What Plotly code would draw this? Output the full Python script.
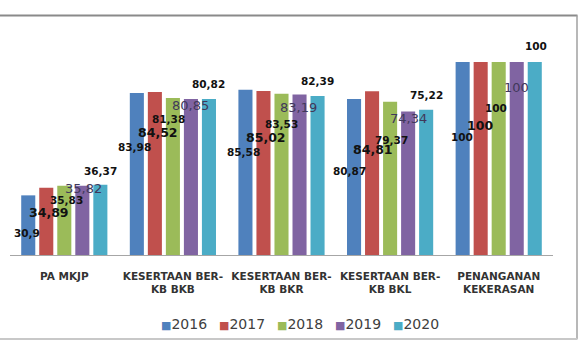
import plotly.graph_objects as go

categories = ["PA MKJP", "KESERTAAN BER-<br>KB BKB", "KESERTAAN BER-<br>KB BKR",
              "KESERTAAN BER-<br>KB BKL", "PENANGANAN<br>KEKERASAN"]
years = ["2016", "2017", "2018", "2019", "2020"]
v2016 = [30.9, 83.98, 85.58, 80.87, 100]
v2017 = [34.89, 84.52, 85.02, 84.81, 100]
v2018 = [35.83, 81.38, 83.53, 79.37, 100]
v2019 = [35.82, 80.85, 83.19, 74.34, 100]
v2020 = [36.37, 80.82, 82.39, 75.22, 100]
series = [v2016, v2017, v2018, v2019, v2020]

colors = ["#4f81bd", "#c0504d", "#9bbb59", "#8064a2", "#4bacc6"]

# label styling (pixel offsets of the hand-placed Excel data labels)
label_dy = [  # px below bar top, per series, per category
    [38, 54, 62, 72, 75],
    [25, 41, 47, 58, 63],
    [14, 21, 30, 38, 46],
    [3, 7, 13, 7, 25],
    [-14, -15, -15, -15, -16],
]
label_dx = [
    [-1, -2, -2, -5, -1],
    [3, 3, 3, 1, -1],
    [2, -4, 0, 1, -3],
    [1, 0, -1, 0, 0],
    [0, 0, 0, 0, 1],
]
label_font = [
    dict(family="DejaVu Sans", size=10.5, color="#111111", weight="bold"),
    dict(family="DejaVu Sans", size=12.5, color="#111111", weight="bold"),
    dict(family="DejaVu Sans", size=10.5, color="#111111", weight="bold"),
    dict(family="DejaVu Sans", size=13, color="#40385a", weight="normal"),
    dict(family="DejaVu Sans", size=10.5, color="#111111", weight="bold"),
]

W, H = 582, 342
ml, mr, mt, mb = 10, 29, 62, 87
pw = W - ml - mr
ph = H - mt - mb

fig = go.Figure()
for yr, vals, c in zip(years, series, colors):
    fig.add_trace(go.Bar(name=yr, x=categories, y=vals, marker=dict(color=c, line=dict(width=0)),
                         showlegend=False))

slot = pw / len(categories) * (1 - 0.17) / len(years)

def fmt(v):
    s = ("%.2f" % v).rstrip("0").rstrip(".")
    return s.replace(".", ",")

annotations = []
for si, vals in enumerate(series):
    for ci, v in enumerate(vals):
        annotations.append(dict(
            x=categories[ci], y=v, xref="x", yref="y",
            text=fmt(v), showarrow=False,
            xanchor="center", yanchor="middle",
            xshift=(si - 2) * slot + label_dx[si][ci],
            yshift=-label_dy[si][ci],
            font=label_font[si],
        ))

# legend (compact, Excel-like)
for i, (yr, c) in enumerate(zip(years, colors)):
    px = 159 + i * 58
    annotations.append(dict(
        x=(px - ml) / pw, y=(mt + ph - 324) / ph, xref="paper", yref="paper",
        xanchor="left", yanchor="middle", showarrow=False,
        text=f'<span style="color:{c};font-size:11px">■</span>{yr}',
        font=dict(family="DejaVu Sans", size=14, color="#404040"),
    ))

def px2x(p):
    return (p - ml) / pw

def py2y(p):
    return (mt + ph - p) / ph

shapes = [
    dict(type="line", xref="paper", yref="paper", x0=px2x(-5), x1=px2x(577.5),
         y0=py2y(15.5), y1=py2y(15.5), line=dict(color="#8a8a8a", width=2)),
    dict(type="line", xref="paper", yref="paper", x0=px2x(577), x1=px2x(577),
         y0=py2y(15.5), y1=py2y(339), line=dict(color="#a0a0a0", width=1.5)),
    dict(type="line", xref="paper", yref="paper", x0=px2x(-5), x1=px2x(577.5),
         y0=py2y(339), y1=py2y(339), line=dict(color="#c8c8c8", width=2)),
]

fig.update_layout(
    width=W, height=H,
    margin=dict(l=ml, r=mr, t=mt, b=mb, pad=0),
    paper_bgcolor="white", plot_bgcolor="white",
    barmode="group", bargap=0.17, bargroupgap=0.22,
    showlegend=False,
    annotations=annotations,
    shapes=shapes,
    xaxis=dict(showline=True, linecolor="#a6a6a6", linewidth=1, ticks="",
               tickfont=dict(family="DejaVu Sans", size=10.5, color="#333333", weight="bold"),
               ticklabelstandoff=11, showgrid=False, zeroline=False),
    yaxis=dict(range=[0, 100], visible=False, showgrid=False, zeroline=False),
)

fig.write_html("out.html")
